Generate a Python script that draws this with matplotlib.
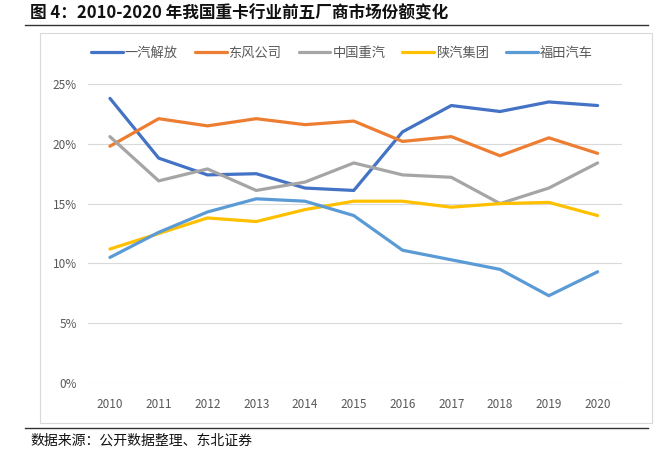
import matplotlib
matplotlib.use("Agg")
import matplotlib.pyplot as plt
from matplotlib.patches import Rectangle
from matplotlib.lines import Line2D
from matplotlib.ticker import FuncFormatter

plt.rcParams['font.family'] = ['Noto Sans CJK SC', 'DejaVu Sans']

years = ['2010', '2011', '2012', '2013', '2014', '2015',
         '2016', '2017', '2018', '2019', '2020']

faw = [23.8, 18.8, 17.4, 17.5, 16.3, 16.1, 21.0, 23.2, 22.7, 23.5, 23.2]
dongfeng = [19.8, 22.1, 21.5, 22.1, 21.6, 21.9, 20.2, 20.6, 19.0, 20.5, 19.2]
sinotruk = [20.6, 16.9, 17.9, 16.1, 16.8, 18.4, 17.4, 17.2, 15.0, 16.3, 18.4]
shacman = [11.2, 12.5, 13.8, 13.5, 14.5, 15.2, 15.2, 14.7, 15.0, 15.1, 14.0]
foton = [10.5, 12.6, 14.3, 15.4, 15.2, 14.0, 11.1, 10.3, 9.5, 7.3, 9.3]

series = [
    ('一汽解放', faw, '#4472C4'),
    ('东风公司', dongfeng, '#ED7D31'),
    ('中国重汽', sinotruk, '#A5A5A5'),
    ('陕汽集团', shacman, '#FFC000'),
    ('福田汽车', foton, '#5B9BD5'),
]

W, H = 670, 455
fig = plt.figure(figsize=(W / 100, H / 100), dpi=100)

# chart frame
fig.patches.append(Rectangle((40 / W, 1 - 423 / H), 612 / W, 390 / H,
                             transform=fig.transFigure, fill=False,
                             edgecolor='#D9D9D9', linewidth=0.8))
# rules under title and above source
fig.add_artist(Line2D([25 / W, 648 / W], [1 - 25 / H, 1 - 25 / H],
                      color='#333333', linewidth=1.0))
fig.add_artist(Line2D([25 / W, 648 / W], [1 - 428 / H, 1 - 428 / H],
                      color='#333333', linewidth=1.0))

fig.text(30 / W, 1 - 13 / H, '图 4：2010-2020 年我国重卡行业前五厂商市场份额变化',
         fontsize=12, fontweight='bold', va='center', ha='left', color='#111111')
fig.text(30 / W, 1 - 441 / H, '数据来源：公开数据整理、东北证券',
         fontsize=10, va='center', ha='left', color='#111111')

ax = fig.add_axes([88 / W, 1 - 383 / H, 534 / W, 299 / H])
x = list(range(len(years)))
for name, vals, color in series:
    ax.plot(x, [v / 100 for v in vals], color=color, linewidth=2.3,
            label=name, solid_capstyle='round')

ax.set_xlim(-0.45, 10.5)
ax.set_ylim(0, 0.25)
ax.set_yticks([0, 0.05, 0.10, 0.15, 0.20, 0.25])
ax.yaxis.set_major_formatter(FuncFormatter(lambda v, p: f'{v * 100:.0f}%'))
ax.set_xticks(x)
ax.set_xticklabels(years)
ax.grid(axis='y', color='#D9D9D9', linewidth=0.8)
ax.set_axisbelow(True)
for s in ax.spines.values():
    s.set_visible(False)
ax.tick_params(length=0, labelsize=8.5, colors='#595959')
ax.tick_params(axis='x', pad=11)
ax.tick_params(axis='y', pad=8)

leg = fig.legend(loc='center', bbox_to_anchor=(342 / W, 1 - 53 / H), ncol=5,
                 frameon=False, fontsize=9.5, handlelength=2.4, handletextpad=0.15,
                 columnspacing=1.3)
for t in leg.get_texts():
    t.set_color('#595959')

fig.savefig('out.png', dpi=100)
